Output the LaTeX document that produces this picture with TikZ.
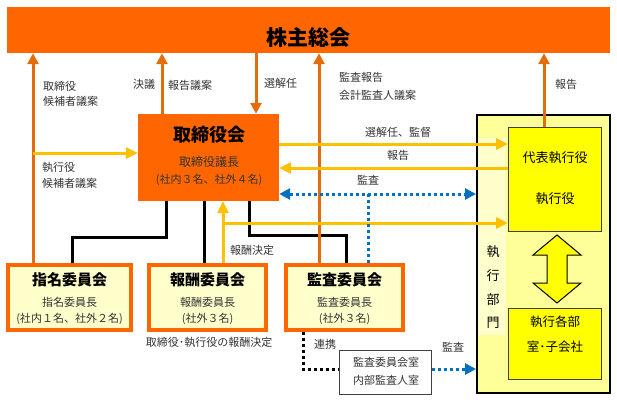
\documentclass[tikz,border=0pt]{standalone}
\usepackage{fontspec}
\setmainfont{Noto Sans CJK JP}
\usetikzlibrary{arrows.meta}

\definecolor{gmorange}{HTML}{FF6600}
\definecolor{arroworange}{HTML}{E46C0A}
\definecolor{flowyellow}{HTML}{FFC000}
\definecolor{auditblue}{HTML}{0070C0}
\definecolor{cmtfill}{HTML}{FFFFCC}
\definecolor{deptfill}{HTML}{FFFF99}
\definecolor{execfill}{HTML}{FFFF00}

\begin{document}
\begin{tikzpicture}[x=1pt, y=-1pt,
        gmbar/.style={fill=gmorange, inner sep=0pt, minimum width=603pt, minimum height=46pt},
        board/.style={fill=gmorange, inner sep=0pt, minimum width=141pt, minimum height=87pt},
        committee/.style={draw=gmorange, line width=4pt, fill=cmtfill, inner sep=0pt, minimum width=117pt, minimum height=65pt},
        execbox/.style={draw=black, line width=2pt, fill=deptfill, inner sep=0pt, minimum width=133pt, minimum height=278pt},
        execcol/.style={draw=yellow!20, line width=0.5pt, fill=cmtfill, inner sep=0pt, minimum width=27pt, minimum height=196pt},
        officer/.style={draw=black!75, line width=1pt, fill=execfill, inner sep=0pt, minimum width=93pt},
        roombox/.style={draw=black!75, line width=1pt, fill=white, inner sep=0pt, minimum width=92pt, minimum height=44pt},
        title/.style={font=\bfseries\fontsize{15}{15}\selectfont, inner sep=0pt},
        txt/.style={font=\fontsize{11}{11}\selectfont, text=black!80, inner sep=0pt},
        txtbig/.style={font=\fontsize{13}{13}\selectfont, inner sep=0pt},
        toGM/.style={draw=arroworange, line width=3pt, -{Triangle[width=11pt,length=11pt]}},
        flow/.style={draw=flowyellow, line width=3pt, -{Triangle[width=11pt,length=12pt]}},
        audit/.style={draw=auditblue, line width=3pt, dash pattern=on 3pt off 3pt},
        link/.style={draw=black, line width=3pt},
        liaison/.style={draw=black, line width=3pt, dash pattern=on 3pt off 3pt}
    ]

        \fill[white] (0,0) rectangle (617,401);
        \useasboundingbox (0,0) rectangle (617,401);

        % boxes
        \node[gmbar] (gm) at (308.5,30) {};
        \node[font=\bfseries\fontsize{21}{21}\selectfont, inner sep=0pt] (gmtext) at (308,37) {株主総会};

        \node[board] (bod) at (208.5,157.5) {};
        \node[font=\bfseries\fontsize{18}{18}\selectfont, inner sep=0pt] (bodtitle) at (209,135) {取締役会};
        \node[txt, font=\fontsize{12}{12}\selectfont] (bodchair) at (209,162) {取締役議長};
        \node[txt] (bodmember) at (209,180) {(社内３名、社外４名)};

        \node[committee, minimum width=123pt] (nom) at (69.5,297.5) {};
        \node[title] (nomtitle) at (69.5,280) {指名委員会};
        \node[txt] (nomchair) at (69.5,302) {指名委員長};
        \node[txt] (nommember) at (69.5,319) {(社内１名、社外２名)};

        \node[committee] (rem) at (207.5,297.5) {};
        \node[title] (remtitle) at (207.5,280) {報酬委員会};
        \node[txt] (remchair) at (207.5,302) {報酬委員長};
        \node[txt] (remmember) at (207.5,319) {(社外３名)};

        \node[committee] (aud) at (344.5,297.5) {};
        \node[title] (audtitle) at (344.5,280) {監査委員会};
        \node[txt] (audchair) at (344.5,302) {監査委員長};
        \node[txt] (audmember) at (344.5,319) {(社外３名)};

        \node[roombox] (aoff) at (385.5,372.5) {};
        \node[txt] (aoff1) at (386,362) {監査委員会室};
        \node[txt] (aoff2) at (386,380) {内部監査人室};

        \node[execbox] (execdept) at (543.5,254) {};
        \node[execcol] (execcol) at (491.5,236) {};
        \node[txtbig] (col1) at (493,252) {執};
        \node[txtbig] (col2) at (493,276) {行};
        \node[txtbig] (col3) at (493,300) {部};
        \node[txtbig] (col4) at (493,323) {門};

        \node[officer, minimum height=104pt] (ceo) at (555,179.5) {};
        \node[txtbig] (ceo1) at (555,158) {代表執行役};
        \node[txtbig] (ceo2) at (555,199) {執行役};

        \node[officer, minimum height=71pt] (depts) at (555,344) {};
        \node[txtbig, font=\fontsize{12.5}{12.5}\selectfont] (depts1) at (555,322) {執行各部};
        \node[txtbig, font=\fontsize{12.5}{12.5}\selectfont] (depts2) at (555,347) {室･子会社};

        \draw[fill=execfill, draw=black, line width=1pt] (557,235) -- (581,255) -- (567,255) -- (567,283) -- (581,283)
            -- (557,303) -- (533,283) -- (547,283) -- (547,255) -- (533,255) -- cycle;

        % black lines from the board
        \coordinate (k1) at (166,237);
        \coordinate (k2) at (72,237);
        \coordinate (k3) at (204,0);
        \coordinate (k4) at (249,235);
        \coordinate (k5) at (346,235);
        \draw[link] (bod.south -| k1) -- (k1) -- (k2) -- (nom.north -| k2);
        \draw[link] (bod.south -| k3) -- (rem.north -| k3);
        \draw[link] (bod.south -| k4) -- (k4) -- (k5) -- (aud.north -| k5);

        \coordinate (d1) at (303,369);
        \draw[liaison] (aud.south -| d1) -- (d1) -- (aoff.west |- d1);

        % orange arrows
        \coordinate (c1) at (33,0);
        \coordinate (c2) at (162,0);
        \coordinate (c3) at (256,0);
        \coordinate (c4) at (319,0);
        \coordinate (c5) at (544,0);
        \draw[toGM] (nom.north -| c1) -- (gm.south -| c1);
        \draw[toGM] (bod.north -| c2) -- (gm.south -| c2);
        \draw[toGM] (gm.south -| c3) -- (bod.north -| c3);
        \draw[toGM] (aud.north -| c4) -- (gm.south -| c4);
        \draw[toGM] (ceo.north -| c5) -- (gm.south -| c5);

        % yellow arrows
        \coordinate (y1) at (33,153);
        \coordinate (r1) at (0,144);
        \coordinate (r2) at (0,168);
        \coordinate (p1) at (223,223);
        \draw[flow] (y1) -- (bod.west |- y1);
        \draw[flow] (bod.east |- r1) -- (ceo.west |- r1);
        \draw[flow] (ceo.west |- r2) -- (bod.east |- r2);
        \draw[flow] (rem.north -| p1) -- (bod.south -| p1);
        \draw[flow] (p1) -- (ceo.west |- p1);

        % blue audit lines
        \coordinate (r3) at (0,194);
        \coordinate (a1) at (368,194);
        \draw[audit, {Triangle[width=11pt,length=11pt]}-{Triangle[width=11pt,length=11pt]}] (bod.east |- r3) -- (execdept.west |- r3);
        \draw[audit] (a1) -- (aud.north -| a1);
        \draw[audit, -{Triangle[width=11pt,length=11pt]}] (aoff.east |- d1) -- (execdept.west |- d1);

        % labels
        \node[txt, anchor=west] (l1) at (43,86) {取締役};
        \node[txt, anchor=west] (l2) at (43,101) {候補者議案};
        \node[txt, anchor=west] (l3) at (133,84) {決議};
        \node[txt, anchor=west] (l4) at (168,85) {報告議案};
        \node[txt, anchor=west] (l5) at (264,83) {選解任};
        \node[txt, anchor=west] (l6) at (339,77) {監査報告};
        \node[txt, anchor=west] (l7) at (339,95) {会計監査人議案};
        \node[txt, anchor=west] (l8) at (555,84) {報告};
        \node[txt, anchor=west] (l9) at (42,167) {執行役};
        \node[txt, anchor=west] (l10) at (42,183) {候補者議案};
        \node[txt] (l11) at (398,132) {選解任、監督};
        \node[txt] (l12) at (398,155) {報告};
        \node[txt] (l13) at (368,180) {監査};
        \node[txt, anchor=west] (l14) at (230,250) {報酬決定};
        \node[txt] (l15) at (209,342) {取締役･執行役の報酬決定};
        \node[txt, anchor=west] (l16) at (314,344) {連携};
        \node[txt] (l17) at (453,347) {監査};
    \end{tikzpicture}
\end{document}
